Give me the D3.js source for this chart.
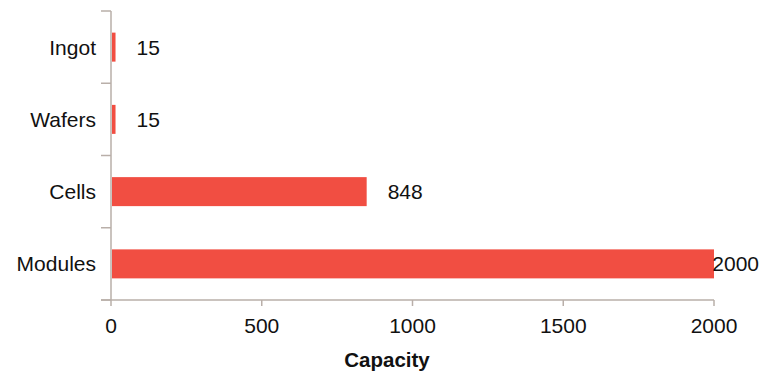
<!doctype html>
<html>
<head>
<meta charset="utf-8" />
<script src="https://cdn.jsdelivr.net/npm/d3@7"></script>
<style>
  body { margin: 0; background: #fff; }
  text { font-family: "Liberation Sans", Arial, sans-serif; fill: #111; }
</style>
</head>
<body>
<script>
var categories = ["Ingot", "Wafers", "Cells", "Modules"];
var capacity = [15, 15, 848, 2000];
var xTicks = [0, 500, 1000, 1500, 2000];

var w = 765, h = 372;
var axisColor = "#b9afa9";
var barColor = "#f14e42";
var fs = "21px";

var svg = d3.select("body").append("svg")
    .attr("width", w)
    .attr("height", h);

var x = d3.scaleLinear().domain([0, 2000]).range([111, 714]);
var y = d3.scaleBand().domain(categories).range([11, 300]);

// y axis line + boundary ticks
svg.append("line")
    .attr("x1", 111).attr("x2", 111)
    .attr("y1", 11).attr("y2", 300)
    .attr("stroke", axisColor).attr("stroke-width", 1.5);

var bounds = categories.map(function(c){ return y(c); }).concat([300]);
svg.selectAll(".ytick")
    .data(bounds)
    .enter().append("line")
    .attr("x1", 101).attr("x2", 111)
    .attr("y1", function(d){ return d; })
    .attr("y2", function(d){ return d; })
    .attr("stroke", axisColor).attr("stroke-width", 1.5);

svg.selectAll(".ylab")
    .data(categories)
    .enter().append("text")
    .attr("x", 96)
    .attr("y", function(d){ return y(d) + y.bandwidth() / 2 + 7.5; })
    .attr("text-anchor", "end")
    .attr("font-size", fs)
    .text(function(d){ return d; });

// x axis
svg.append("line")
    .attr("x1", 101).attr("x2", 714)
    .attr("y1", 300).attr("y2", 300)
    .attr("stroke", axisColor).attr("stroke-width", 1.5);

svg.selectAll(".xtick")
    .data(xTicks)
    .enter().append("line")
    .attr("x1", function(d){ return x(d); })
    .attr("x2", function(d){ return x(d); })
    .attr("y1", 300).attr("y2", 306)
    .attr("stroke", axisColor).attr("stroke-width", 1.5);

svg.selectAll(".xlab")
    .data(xTicks)
    .enter().append("text")
    .attr("x", function(d){ return x(d); })
    .attr("y", 332.5)
    .attr("text-anchor", "middle")
    .attr("font-size", fs)
    .text(function(d){ return d; });

svg.append("text")
    .attr("x", 387).attr("y", 367)
    .attr("text-anchor", "middle")
    .attr("font-size", "20.5px")
    .attr("font-weight", "bold")
    .text("Capacity");

// bars
var barH = 29;
svg.selectAll(".bar")
    .data(capacity)
    .enter().append("rect")
    .attr("class", "bar")
    .attr("x", 112)
    .attr("y", function(d, i){ return y(categories[i]) + y.bandwidth() / 2 - barH / 2; })
    .attr("width", function(d){ return Math.max(0, x(d) - 112); })
    .attr("height", barH)
    .attr("fill", barColor);

// value labels
svg.selectAll(".val")
    .data(capacity)
    .enter().append("text")
    .attr("class", "val")
    .attr("y", function(d, i){ return y(categories[i]) + y.bandwidth() / 2 + 7.5; })
    .attr("font-size", fs)
    .text(function(d){ return d; })
    .attr("x", function(d){
        var tw = this.getComputedTextLength();
        return Math.min(x(d) + 21, w - 6 - tw);
    });
</script>
</body>
</html>
